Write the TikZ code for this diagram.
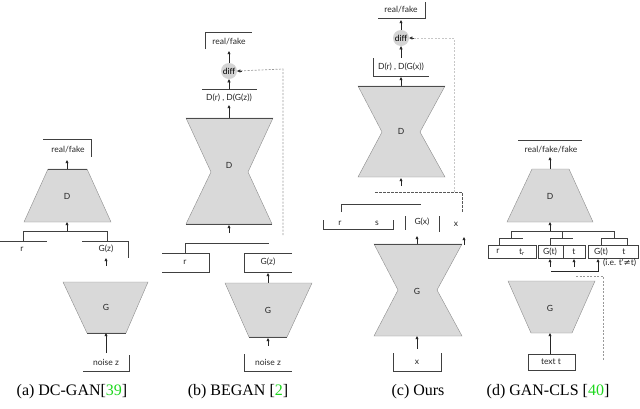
\documentclass[tikz,border=0pt]{standalone}
\usepackage{fontspec}
\setmainfont{Liberation Serif}
\newfontfamily\lbfont{Lato}
\newfontfamily\djfont{DejaVu Sans}
\usetikzlibrary{arrows.meta}
\definecolor{citegreen}{RGB}{30,215,30}
\begin{document}
\begin{tikzpicture}[x=1pt,y=-1pt,
  lbl/.style={font=\lbfont\fontsize{8.5}{9}\selectfont, inner sep=0pt, text=black!85},
  captxt/.style={font=\fontsize{16}{18}\selectfont, inner sep=0pt},
  ln/.style={draw=black!75, line width=0.55pt},
  arr/.style={draw=black!85, line width=0.6pt, -{Triangle[length=3.2pt,width=3pt]}},
  netshape/.style={fill=black!15, draw=black!45, line width=0.4pt},
  rim/.style={draw=black!70, line width=1pt},
  gdash/.style={draw=black!40, line width=0.7pt, dash pattern=on 2pt off 1.5pt},
  ldash/.style={draw=black!22, line width=0.7pt, dash pattern=on 2pt off 1.5pt},
  ddash/.style={draw=black!65, line width=0.7pt, dash pattern=on 2.5pt off 1.5pt},
  diffc/.style={circle, fill=black!17, minimum size=16pt, inner sep=0pt, font=\lbfont\fontsize{8.5}{9}\selectfont}
]
\useasboundingbox (0,0) rectangle (640,408);

% ================= (a) DC-GAN =================
\node[lbl] (aRF) at (68,150) {real/fake};
\draw[ln] (43,139) -- (91,139) -- (91,157);
\coordinate (aDt) at (67,169); \coordinate (aDb) at (67,222);
\draw[netshape] (48,169) -- (87,169) -- (111,222) -- (24,222) -- cycle;
\draw[rim] (48,169) -- (87,169);
\node[lbl] (aD) at (67,196) {D};
\draw[arr] (aDt) -- ++(0,-9);
\coordinate (aBr) at (67,231);
\draw[arr] (aBr) -- (aDb);
\draw[ln] (23,241) -- (23,231) -- (107,231) -- (107,241);
\draw[ln] (0,241) -- (47,241);
\node[lbl] (aR) at (22,249) {r};
\draw[ln] (82,241) -- (128,241) -- (128,258);
\node[lbl] (aGz) at (106,249) {G(z)};
\coordinate (aGt) at (106,282); \coordinate (aGb) at (106,333);
\draw[arr] (106,266) -- (106,258);
\draw[netshape] (63,282) -- (148,282) -- (126,333) -- (87,333) -- cycle;
\draw[rim] (87,333) -- (126,333);
\node[lbl] (aG) at (106,307) {G};
\node[lbl] (aN) at (106,362) {noise z};
\draw[ln] (83,371) -- (129,371) -- (129,355);
\draw[arr] (106,353) -- (aGb);
\node[captxt] (aCap) at (72,392) {(a) DC-GAN[\textcolor{citegreen}{39}]};

% ================= (b) BEGAN =================
\node[lbl] (bRF) at (229,42) {real/fake};
\draw[ln] (205,49) -- (205,32) -- (252,32);
\node[diffc] (bDiff) at (229,71) {diff};
\draw[arr] (bDiff) -- (229,51);
\draw[ln] (202,89) -- (257,89);
\draw[arr] (229,89) -- (bDiff);
\node[lbl] (bDD) at (229,98) {D(r) , D(G(z))};
\coordinate (bDt) at (229,118); \coordinate (bDb) at (229,224);
\draw[arr] (bDt) -- (229,105);
\draw[netshape] (186,118) -- (273,118) -- (248,172) -- (272,224) -- (186,224) -- (211,172) -- cycle;
\draw[rim] (186,118) -- (273,118);
\draw[rim] (186,224) -- (272,224);
\node[lbl] (bD) at (229,165) {D};
\draw[arr] (229,233) -- (229,225);
\coordinate (bDs) at (283,235);
\draw[gdash] (bDs) -- (283,69) -- (bDiff.east);
\draw[arr, draw=black!80] ([xshift=5pt]bDiff.east) -- (bDiff.east);
\draw[ln] (185,253) -- (185,243) -- (269,243);
\draw[ln] (162,253) -- (209,253) -- (209,272) -- (162,272);
\node[lbl] (bR) at (185,262) {r};
\draw[ln] (292,253) -- (244,253) -- (244,272) -- (292,272);
\node[lbl] (bGz) at (268,262) {G(z)};
\coordinate (bGt) at (268,283); \coordinate (bGb) at (268,337);
\draw[arr] (bGt) -- (268,273);
\draw[netshape] (225,283) -- (312,283) -- (287,337) -- (249,337) -- cycle;
\draw[rim] (249,337) -- (287,337);
\node[lbl] (bG) at (268,310) {G};
\draw[arr] (268,346) -- (268,338);
\node[lbl] (bN) at (268,362) {noise z};
\draw[ln] (244,354) -- (244,371) -- (292,371);
\node[captxt] (bCap) at (238,392) {(b) BEGAN [\textcolor{citegreen}{2}]};

% ================= (c) Ours =================
\node[lbl] (cRF) at (401,10) {real/fake};
\draw[ln] (378,18) -- (425,18) -- (425,2);
\node[diffc] (cDiff) at (401,38) {diff};
\draw[arr] (cDiff) -- (401,20);
\draw[ldash] (454,192) -- (454,38) -- ([xshift=5pt]cDiff.east);
\draw[arr, draw=black!80] ([xshift=5pt]cDiff.east) -- (cDiff.east);
\draw[arr] (401,58) -- (cDiff);
\node[lbl] (cDD) at (401,67) {D(r) , D(G(x))};
\draw[ln] (373,58) -- (373,76) -- (429,76);
\coordinate (cDt) at (401,86); \coordinate (cDb) at (401,177);
\draw[arr] (cDt) -- (401,77);
\draw[netshape] (358,86) -- (445,86) -- (420,132) -- (445,177) -- (358,177) -- (382,132) -- cycle;
\draw[rim] (358,86) -- (445,86);
\node[lbl] (cD) at (401,131) {D};
\draw[arr] (401,186) -- (401,178);
\draw[ddash] (375,192) -- (462,192) -- (462,212);
\draw[ln] (341,212) -- (341,204) -- (421,204);
\draw[ln] (323,220) -- (323,229) -- (393,229) -- (393,220);
\node[lbl] (cR) at (340,223) {r};
\node[lbl] (cS) at (377,223) {s};
\draw[ln] (405,216) -- (405,230);
\node[lbl] (cGx) at (422,222) {G(x)};
\draw[ln] (439,216) -- (439,232);
\node[lbl] (cX) at (456,224) {x};
\coordinate (cGt) at (417,244); \coordinate (cGb) at (417,336);
\draw[arr] (cGt) -- (417,236);
\draw[arr] (464,245) -- (464,237);
\draw[netshape] (374,244) -- (462,244) -- (437,290) -- (462,336) -- (374,336) -- (398,290) -- cycle;
\draw[rim] (374,244) -- (462,244);
\node[lbl] (cG) at (417,291) {G};
\node[lbl] (cXin) at (417,362) {x};
\draw[ln] (393,353) -- (393,371) -- (441,371) -- (441,353);
\draw[arr] (417,349) -- (cGb);
\node[captxt] (cCap) at (418,392) {(c) Ours};

% ================= (d) GAN-CLS =================
\draw[ln] (518,140) -- (582,140);
\node[lbl] (dRF) at (551,150) {real/fake/fake};
\coordinate (dDt) at (550,169); \coordinate (dDb) at (550,222);
\draw[arr] (dDt) -- (550,157);
\draw[netshape] (532,169) -- (569,169) -- (593,222) -- (507,222) -- cycle;
\node[lbl] (dD) at (550,196) {D};
\draw[arr] (550,231) -- (dDb);
\draw[ln] (511,238) -- (511,231) -- (614,231) -- (614,238);
\draw[ln] (562,231) -- (562,238);
\draw[ln] (499,245) -- (499,238) -- (523,238);
\draw[ln] (550,245) -- (550,238) -- (573,238);
\draw[ln] (601,245) -- (601,238) -- (627,238) -- (627,245);
\draw[ln] (488,245) rectangle (536,258);
\draw[ln] (538,245) rectangle (585,258);
\draw[ln] (563,245) -- (563,258);
\draw[ln] (588,245) rectangle (638,258);
\node[lbl] (dR) at (498,251.5) {r};
\node[lbl] (dTr) at (522,252) {t\textsubscript{r}};
\node[lbl] (dGt1) at (550,251.5) {G(t)};
\node[lbl] (dT1) at (574,251.5) {t};
\node[lbl] (dGt2) at (601,251.5) {G(t)};
\node[lbl] (dT2) at (624,251.5) {t};
\draw[arr] (550,267) -- (550,259);
\draw[arr] (574,267) -- (574,259);
\coordinate (dIn) at (551,271);
\draw[arr] (dIn) -- (598,271) -- (598,259);
\node[lbl, anchor=west] (dIe) at (603,263) {(i.e. t'{\djfont ≠}t)};
\draw[gdash] (576,276) -- (603,276) -- (603,360);
\coordinate (dGt) at (550,281); \coordinate (dGb) at (550,333);
\draw[netshape] (508,281) -- (595,281) -- (572,333) -- (531,333) -- cycle;
\node[lbl] (dG) at (550,308) {G};
\draw[ln] (528,354) rectangle (575,370);
\node[lbl] (dTx) at (551,362) {text t};
\draw[arr] (550,354) -- (dGb);
\node[captxt] (dCap) at (548,392) {(d) GAN-CLS [\textcolor{citegreen}{40}]};
\end{tikzpicture}
\end{document}
